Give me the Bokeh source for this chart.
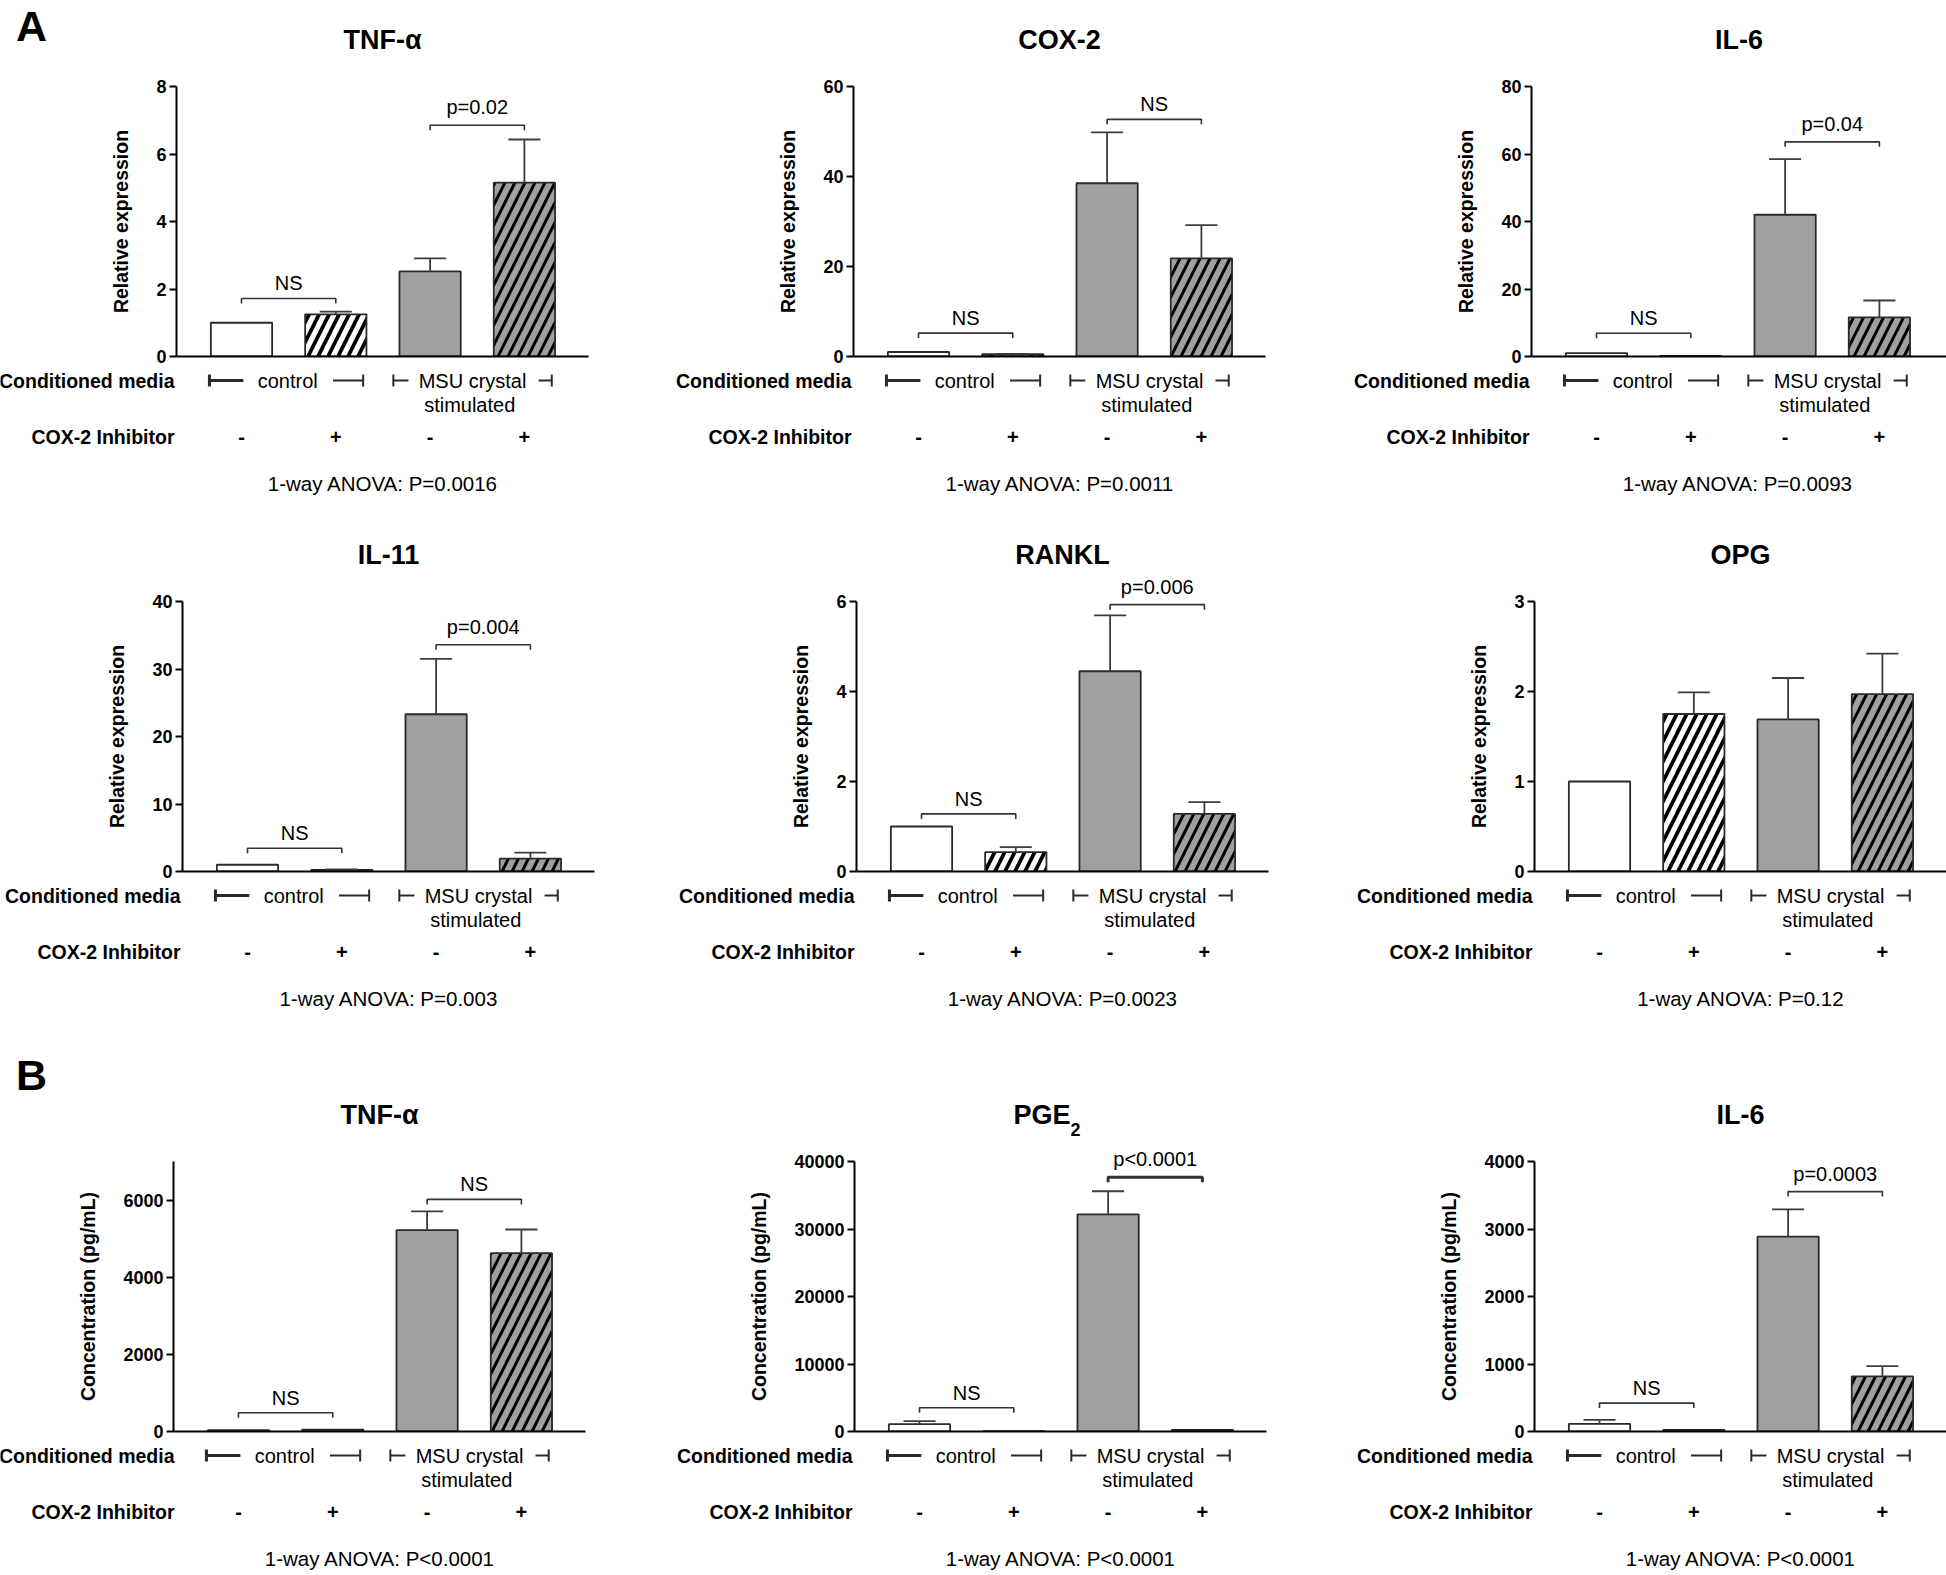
from bokeh.plotting import figure
from bokeh.models import (Range1d, FixedTicker, Label, Arrow, TeeHead, NumeralTickFormatter,
                          GridBox)
from bokeh.embed import file_html
from bokeh.resources import INLINE

FONT = "Liberation Sans"

# ---------------- data ----------------
x_pos = [1, 2, 3, 4]
inhibitor = ["-", "+", "-", "+"]
titles = ["TNF-α", "COX-2", "IL-6", "IL-11", "RANKL", "OPG", "TNF-α", "PGE", "IL-6"]
title_sub = ["", "", "", "", "", "", "", "2", ""]
ylabels = ["Relative expression"] * 6 + ["Concentration (pg/mL)"] * 3
ymax = [8, 60, 80, 40, 6, 3, 7000, 40000, 4000]
yticks = [[0, 2, 4, 6, 8], [0, 20, 40, 60], [0, 20, 40, 60, 80], [0, 10, 20, 30, 40],
          [0, 2, 4, 6], [0, 1, 2, 3], [0, 2000, 4000, 6000],
          [0, 10000, 20000, 30000, 40000], [0, 1000, 2000, 3000, 4000]]
tnf_a = [1.0, 1.25, 2.52, 5.15]
cox2_a = [1.0, 0.5, 38.5, 21.8]
il6_a = [1.0, 0.2, 42.0, 11.6]
il11_a = [1.0, 0.25, 23.3, 1.9]
rankl_a = [1.0, 0.43, 4.45, 1.28]
opg_a = [1.0, 1.75, 1.69, 1.97]
tnf_b = [35, 50, 5220, 4622]
pge2_b = [1089, 50, 32178, 250]
il6_b = [114, 25, 2886, 817]
means = [tnf_a, cox2_a, il6_a, il11_a, rankl_a, opg_a, tnf_b, pge2_b, il6_b]
sems = [[0, 0.08, 0.39, 1.28], [0, 0.1, 11.3, 7.4], [0, 0, 16.5, 5.0],
        [0, 0.05, 8.2, 0.9], [0, 0.11, 1.24, 0.26], [0, 0.24, 0.46, 0.45],
        [0, 0, 486, 615], [446, 0, 3416, 0], [59, 0, 406, 153]]
brackets = [
    [(1, 2, 1.72, "NS"), (3, 4, 6.85, "p=0.02")],
    [(1, 2, 5.2, "NS"), (3, 4, 52.7, "NS")],
    [(1, 2, 6.9, "NS"), (3, 4, 63.6, "p=0.04")],
    [(1, 2, 3.45, "NS"), (3, 4, 33.6, "p=0.004")],
    [(1, 2, 1.28, "NS"), (3, 4, 5.93, "p=0.006")],
    [],
    [(1, 2, 486, "NS"), (3, 4, 6017, "NS")],
    [(1, 2, 3515, "NS"), (3, 4, 37673, "p<0.0001")],
    [(1, 2, 421, "NS"), (3, 4, 3554, "p=0.0003")],
]
anova = ["1-way ANOVA: P=0.0016", "1-way ANOVA: P=0.0011", "1-way ANOVA: P=0.0093",
         "1-way ANOVA: P=0.003", "1-way ANOVA: P=0.0023", "1-way ANOVA: P=0.12",
         "1-way ANOVA: P<0.0001", "1-way ANOVA: P<0.0001", "1-way ANOVA: P<0.0001"]
panel_letter = {0: "A", 6: "B"}

# ---------------- layout / style ----------------
PPU = 94.3          # px per bar slot
AXIS_H = 270        # px height of the value axis
BAR_OFF = 65        # px from y axis to first bar centre
col_start = [0, 653, 1296]
col_w = [653, 643, 650]
row_start = [0, 523, 1043]
row_h = [523, 520, 532]
axis_ref_x = [176, 853, 1531, 182, 856, 1534, 173, 854, 1534]
top_ref_y = [86, 601, 1161]
letter_mid = {0: 25.5, 6: 1074.5}
fills = ["white", "white", "#a0a0a0", "#a0a0a0"]
hatches = [None, "right_diagonal_line", None, "right_diagonal_line"]
hatch_w = [0, 3.8, 0, 3.0]
DARK = "#2a2a2a"


def lab(p, x, y, text, align="center", bold=False, size="20px", baseline="middle"):
    p.add_layout(Label(x=x, y=y, text=text, text_align=align, text_baseline=baseline,
                       text_font=FONT, text_font_size=size,
                       text_font_style="bold" if bold else "normal", text_color="black"))


def tee_line(p, xs, xe, y, lw):
    p.add_layout(Arrow(x_start=xs, y_start=y, x_end=xe, y_end=y,
                       start=TeeHead(size=12, line_width=lw, line_color=DARK),
                       end=None, line_width=lw, line_color=DARK))


children = []
for r in range(3):
    for c in range(3):
        k = r * 3 + c
        left = axis_ref_x[k] - col_start[c]
        top = top_ref_y[r] - row_start[r]
        bottom = row_h[r] - top - AXIS_H
        fw = 412 if c < 2 else col_w[c] - left
        right = col_w[c] - left - fw
        x0 = 1 - BAR_OFF / PPU
        x1 = x0 + fw / PPU
        ym = ymax[k]

        def X(dx):
            return x0 + dx / PPU

        def Y(dy):
            return dy * ym / AXIS_H

        # ---- chart: axes + bars ----
        p = figure(width=col_w[c], height=row_h[r], x_range=Range1d(x0, x1),
                   y_range=Range1d(0, ym), output_backend="svg", toolbar_location=None,
                   tools="", title=None, min_border_left=left, min_border_right=right,
                   min_border_top=top, min_border_bottom=bottom)
        p.frame_align = False
        p.outline_line_color = None
        p.grid.visible = False
        p.background_fill_alpha = 0
        p.border_fill_color = "white"

        xa = p.xaxis[0]
        xa.ticker = FixedTicker(ticks=[])
        xa.major_label_text_font_size = "0px"
        xa.major_tick_line_color = None
        xa.minor_tick_line_color = None
        xa.axis_line_width = 2
        xa.axis_line_color = "black"
        ya = p.yaxis[0]
        ya.ticker = FixedTicker(ticks=yticks[k])
        ya.formatter = NumeralTickFormatter(format="0")
        ya.axis_line_width = 2
        ya.axis_line_color = "black"
        ya.major_tick_line_width = 2
        ya.major_tick_out = 7
        ya.major_tick_in = 0
        ya.minor_tick_line_color = None
        ya.major_label_standoff = 3
        ya.major_label_text_font = FONT
        ya.major_label_text_font_style = "bold"
        ya.major_label_text_font_size = "18px"
        ya.major_label_text_color = "black"
        ya.axis_label = ylabels[k]
        ya.axis_label_text_font = FONT
        ya.axis_label_text_font_style = "bold"
        ya.axis_label_text_font_size = "19.5px"
        ya.axis_label_text_color = "black"
        ya.axis_label_standoff = 21

        for i in range(4):
            kw = dict(x=[x_pos[i]], top=[means[k][i]], bottom=0, width=0.65,
                      fill_color=fills[i], line_color=DARK, line_width=1.8)
            if hatches[i]:
                kw.update(hatch_pattern=hatches[i], hatch_color="black",
                          hatch_weight=hatch_w[i], hatch_scale=20)
            p.vbar(**kw)

        ex = [x_pos[i] for i in range(4) if sems[k][i] > 0]
        eb = [means[k][i] for i in range(4) if sems[k][i] > 0]
        et = [means[k][i] + sems[k][i] for i in range(4) if sems[k][i] > 0]
        if ex:
            p.segment(x0=ex, y0=eb, x1=ex, y1=et, line_color="#3c3c3c", line_width=1.8)
            p.segment(x0=[e - 0.17 for e in ex], y0=et, x1=[e + 0.17 for e in ex], y1=et,
                      line_color="#3c3c3c", line_width=1.8)

        # ---- overlay: same data mapping, frame = whole cell ----
        ox0 = x0 - left / PPU
        ox1 = ox0 + col_w[c] / PPU
        oy1 = (top + AXIS_H) * ym / AXIS_H
        oy0 = oy1 - row_h[r] * ym / AXIS_H
        o = figure(width=col_w[c], height=row_h[r], x_range=Range1d(ox0, ox1),
                   y_range=Range1d(oy0, oy1), output_backend="svg", toolbar_location=None,
                   tools="", title=None, x_axis_location=None, y_axis_location=None,
                   min_border_left=0, min_border_right=0, min_border_top=0,
                   min_border_bottom=0)
        o.frame_align = False
        o.outline_line_color = None
        o.grid.visible = False
        o.background_fill_alpha = 0
        o.border_fill_alpha = 0

        tick = 5 * ym / AXIS_H
        for (a, b, yb, txt) in brackets[k]:
            lw = 3 if txt.startswith("p<") else 1.6
            o.multi_line(xs=[[a, a, b, b]], ys=[[yb - tick, yb, yb, yb - tick]],
                         line_color="#333333", line_width=lw)
            off = 15 if txt == "NS" else 18
            lab(o, (a + b) / 2, yb + off * ym / AXIS_H, txt)

        cx = (x0 + x1) / 2
        if title_sub[k]:
            lab(o, cx + 10 / PPU, Y(317), titles[k], align="right", bold=True, size="27px")
            lab(o, cx + 10 / PPU, Y(309), title_sub[k], align="left", bold=True,
                size="18px", baseline="top")
        else:
            lab(o, cx, Y(317), titles[k], bold=True, size="27px")

        if k in panel_letter:
            zero_abs = top_ref_y[r] + AXIS_H
            lab(o, X(31 - axis_ref_x[k]), Y(zero_abs - letter_mid[k]), panel_letter[k],
                bold=True, size="43px")

        rx = max(-2, 174 - left)
        lab(o, X(rx), Y(-24), "Conditioned media", align="right", bold=True, size="19.5px")
        lab(o, X(rx), Y(-80), "COX-2 Inhibitor", align="right", bold=True, size="19.5px")
        tee_line(o, 0.66, 1.02, Y(-24), 3)
        tee_line(o, 2.29, 1.97, Y(-24), 2)
        tee_line(o, 2.61, 2.77, Y(-24), 2)
        tee_line(o, 4.29, 4.15, Y(-24), 2)
        lab(o, 1.49, Y(-24), "control")
        lab(o, 3.45, Y(-24), "MSU crystal")
        lab(o, 3.42, Y(-48), "stimulated")
        for i in range(4):
            lab(o, x_pos[i], Y(-80), inhibitor[i], bold=True)
        lab(o, 2.5, Y(-127), anova[k], size="20.5px")

        children.append((p, r, c))
        children.append((o, r, c))

grid = GridBox(children=children, spacing=0)
open("out.html", "w").write(file_html(grid, INLINE))
